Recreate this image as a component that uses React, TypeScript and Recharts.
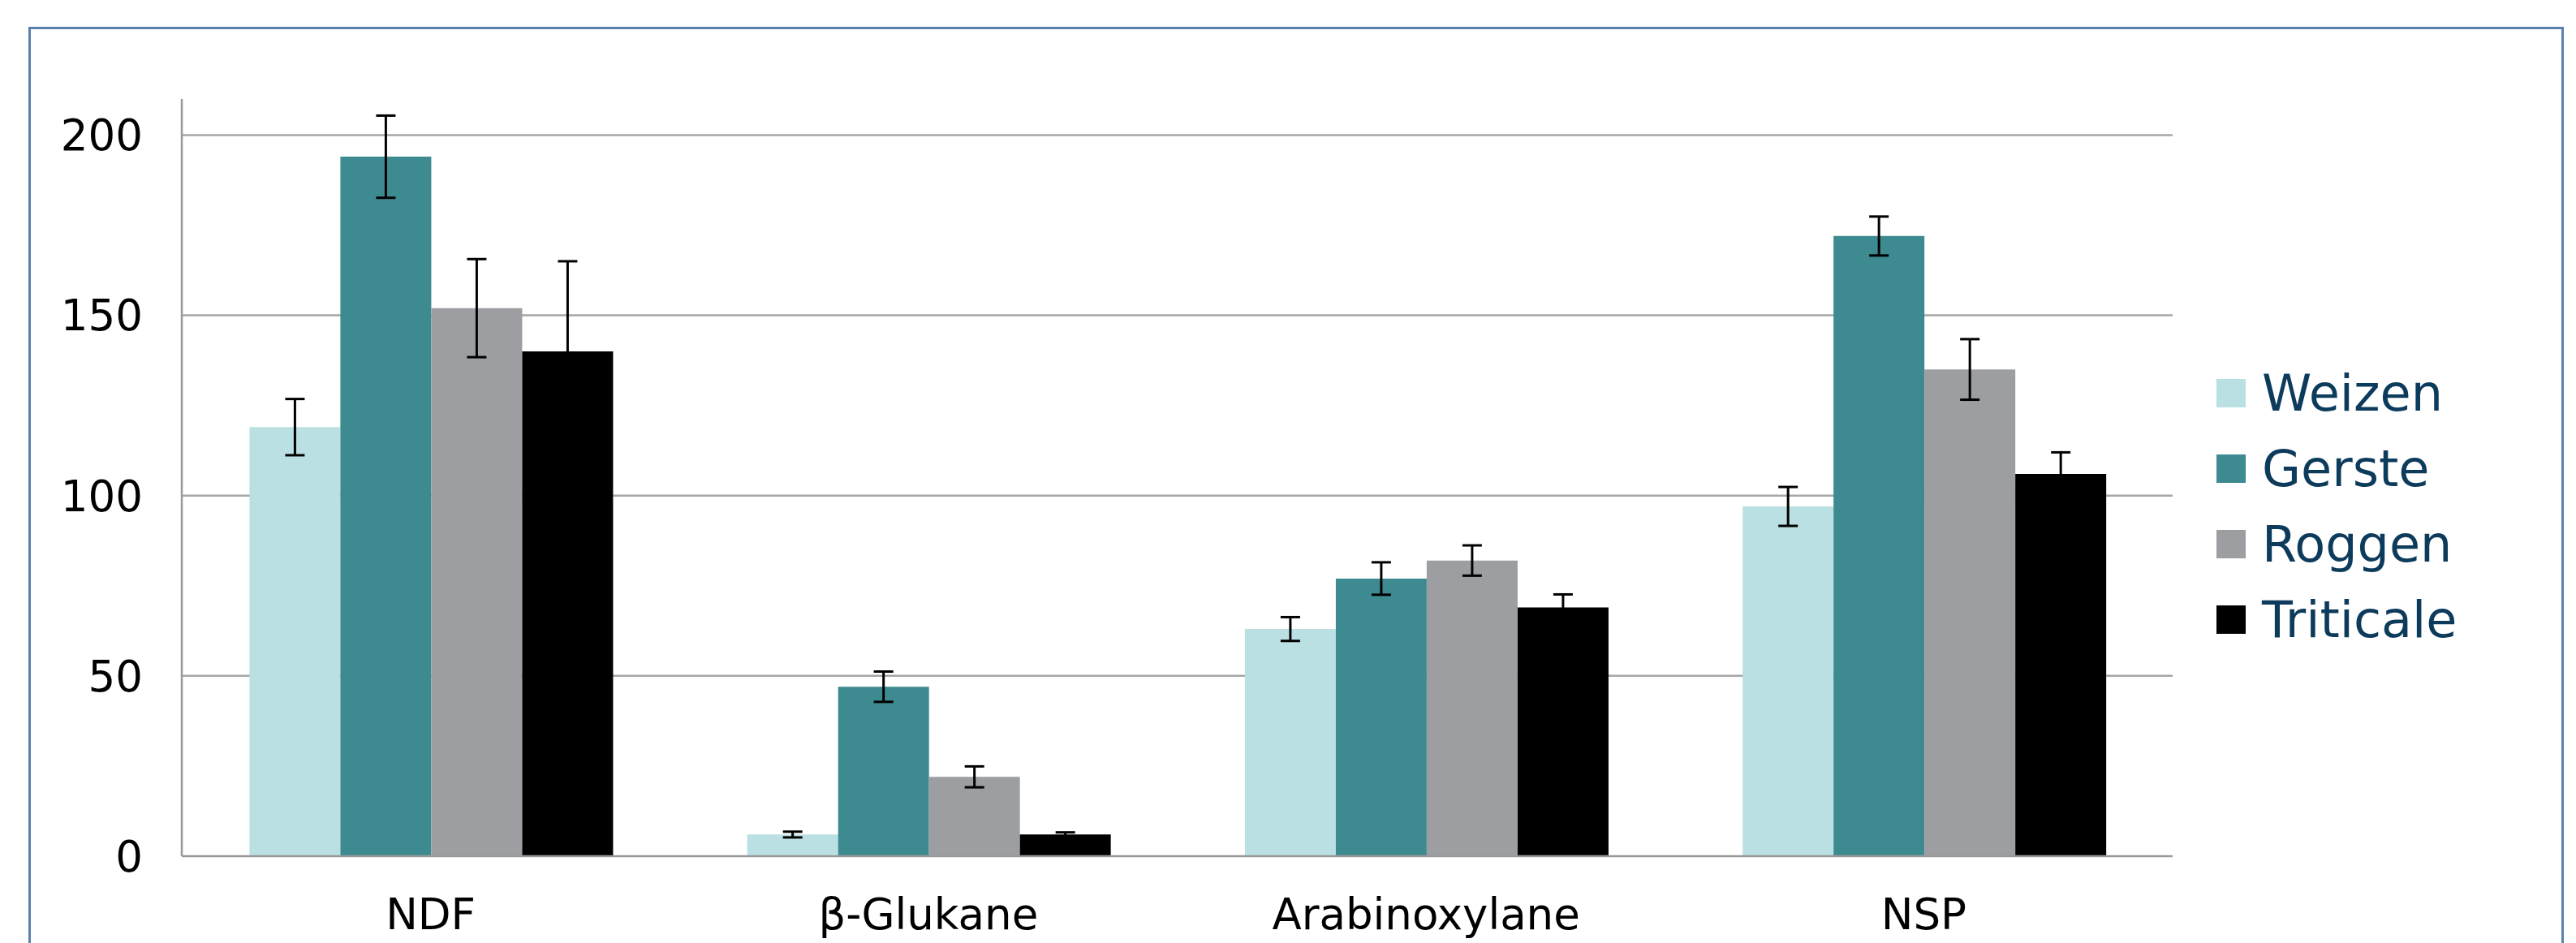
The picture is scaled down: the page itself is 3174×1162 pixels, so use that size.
import React from 'react';
import { BarChart, Bar, XAxis, YAxis, CartesianGrid, ErrorBar } from 'recharts';

const categories = ['NDF', 'β-Glukane', 'Arabinoxylane', 'NSP'];
const weizen = [119, 6, 63, 97];
const weizenErr = [7.8, 0.8, 3.3, 5.4];
const gerste = [194, 47, 77, 172];
const gersteErr = [11.4, 4.2, 4.5, 5.4];
const roggen = [152, 22, 82, 135];
const roggenErr = [13.6, 2.9, 4.2, 8.4];
const triticale = [140, 6, 69, 106];
const triticaleErr = [25, 0.6, 3.6, 6];
const yTicks = [0, 50, 100, 150, 200];
const gridValues = [50, 100, 150, 200];

const seriesNames = ['Weizen', 'Gerste', 'Roggen', 'Triticale'];
const seriesColors = ['#BAE0E3', '#3D8A90', '#9D9EA2', '#000000'];
const seriesValues = [weizen, gerste, roggen, triticale];
const seriesErrors = [weizenErr, gersteErr, roggenErr, triticaleErr];

const data = categories.map((c, i) => {
  const row: Record<string, any> = { name: c };
  seriesNames.forEach((s, k) => {
    row[s] = seriesValues[k][i];
    row[s + 'Err'] = seriesErrors[k][i];
  });
  return row;
});

const FONT = '"DejaVu Sans", Verdana, sans-serif';

const LegendBox = () => (
  <div style={{ position: 'absolute', left: 2731, top: 438, fontFamily: FONT }}>
    {seriesNames.map((s, k) => (
      <div key={s} style={{ display: 'flex', alignItems: 'center', height: 93 }}>
        <div style={{ width: 36, height: 35, background: seriesColors[k], marginRight: 20 }} />
        <span style={{ fontSize: 62, color: '#0D3B5C', lineHeight: '93px' }}>{s}</span>
      </div>
    ))}
  </div>
);

export default function App() {
  return (
    <div style={{ position: 'relative', width: 3174, height: 1162, overflow: 'hidden', background: '#fff' }}>
      <style>{`html,body{margin:0;padding:0;overflow:hidden;}`}</style>
      <svg
        width={3174}
        height={1162}
        style={{ position: 'absolute', left: 0, top: 0 }}
      >
        <rect x={36.5} y={34.5} width={3121} height={1300} fill="none" stroke="#5A81AB" strokeWidth={3} />
      </svg>
      <div style={{ position: 'absolute', left: 0, top: 0 }}>
        <BarChart
          width={3174}
          height={1162}
          data={data}
          margin={{ top: 122, right: 497, bottom: 7, left: 124 }}
          barCategoryGap="13.6%"
          barGap={0}
        >
          <CartesianGrid
            horizontal
            vertical={false}
            horizontalValues={gridValues}
            stroke="#A6A6A6"
            strokeWidth={2.5}
          />
          <XAxis
            dataKey="name"
            height={100}
            tickLine={false}
            tickSize={0}
            tickMargin={52}
            axisLine={{ stroke: '#9A9A9A', strokeWidth: 2.5 }}
            tick={{ fill: '#000', fontSize: 53, fontFamily: FONT }}
            interval={0}
          />
          <YAxis
            width={100}
            domain={[0, 210]}
            ticks={yTicks}
            tickLine={false}
            tickSize={0}
            tickMargin={48}
            axisLine={{ stroke: '#9A9A9A', strokeWidth: 2.5 }}
            tick={{ fill: '#000', fontSize: 53, fontFamily: FONT }}
            allowDataOverflow
          />
          {seriesNames.map((s, k) => (
            <Bar key={s} dataKey={s} fill={seriesColors[k]} isAnimationActive={false}>
              <ErrorBar
                dataKey={s + 'Err'}
                width={12}
                strokeWidth={3}
                stroke="#000"
                direction="y"
                isAnimationActive={false}
              />
            </Bar>
          ))}
        </BarChart>
      </div>
      <LegendBox />
    </div>
  );
}
